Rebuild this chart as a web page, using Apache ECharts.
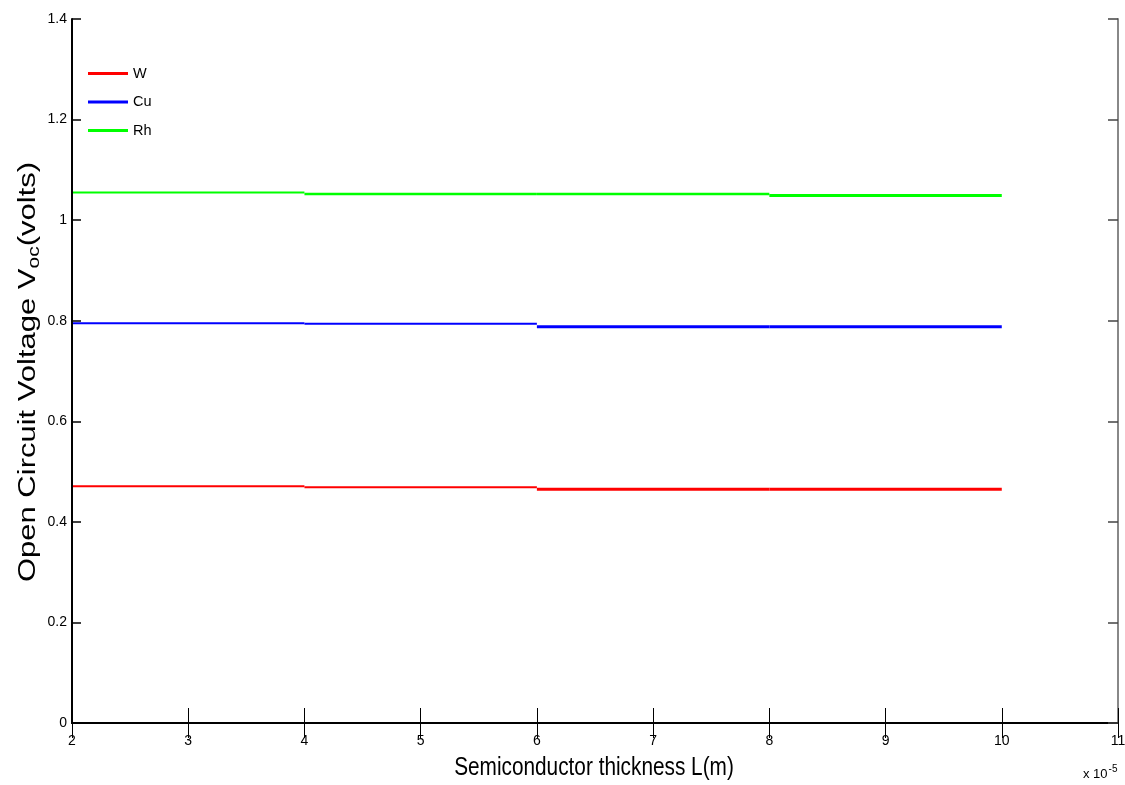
<!DOCTYPE html>
<html>
<head>
<meta charset="utf-8">
<title>Open Circuit Voltage vs Semiconductor thickness</title>
<script src="https://cdn.jsdelivr.net/npm/echarts@6/dist/echarts.min.js"></script>
<style>
  html, body { margin: 0; padding: 0; background: #fff; overflow: hidden; }
  #chart { width: 1125px; height: 785px; }
</style>
</head>
<body>
<div id="chart"></div>
<script>
// Thickness breakpoints (units of 1e-5 m); each material holds a constant
// voltage between consecutive breakpoints.
const thicknessBreaks = [2, 4, 6, 8, 10];
const materials = ['W', 'Cu', 'Rh'];
const vocW  = [0.471, 0.469, 0.465, 0.465];
const vocCu = [0.795, 0.794, 0.788, 0.788];
const vocRh = [1.055, 1.052, 1.052, 1.049];
const xTicks = [2, 3, 4, 5, 6, 7, 8, 9, 10, 11];
const yTicks = [0, 0.2, 0.4, 0.6, 0.8, 1.0, 1.2, 1.4];
const xTitle = 'Semiconductor thickness L(m)';
const yTitleMain = 'Open Circuit Voltage V';
const yTitleSub = 'oc';
const yTitleTail = '(volts)';

const FONT = "'Liberation Sans', Arial, sans-serif";
const colors = { W: '#ff0000', Cu: '#0000ff', Rh: '#00ff00' };
const segWidths = {
  W:  [2, 2, 3, 3],
  Cu: [2, 2, 3.2, 3.2],
  Rh: [2, 2.4, 2.4, 3]
};
const values = { W: vocW, Cu: vocCu, Rh: vocRh };

const series = [];
materials.forEach(function (m) {
  values[m].forEach(function (v, i) {
    series.push({
      name: m,
      type: 'line',
      data: [[thicknessBreaks[i], v], [thicknessBreaks[i + 1], v]],
      showSymbol: false,
      symbol: 'none',
      lineStyle: { color: colors[m], width: segWidths[m][i] },
      itemStyle: { color: colors[m] },
      z: 2,
      silent: true,
      animation: false
    });
  });
});

const chart = echarts.init(document.getElementById('chart'), null, { renderer: 'canvas' });
chart.setOption({
  backgroundColor: '#fff',
  animation: false,
  grid: { left: 72, right: 7, top: 19, bottom: 62, containLabel: false, outerBoundsMode: 'none' },
  legend: {
    data: materials.map(function (m) { return { name: m, icon: 'rect', itemStyle: { color: colors[m] } }; }),
    orient: 'vertical',
    left: 88,
    top: 66,
    padding: 0,
    itemWidth: 40,
    itemHeight: 3,
    itemGap: 13.5,
    textStyle: { fontFamily: FONT, fontSize: 14.5, color: '#000' },
    selectedMode: false
  },
  xAxis: [{
    type: 'value',
    min: 2, max: 11, interval: 1,
    position: 'bottom',
    axisLine: { show: true, lineStyle: { color: '#000', width: 2 } },
    axisTick: { show: true, inside: true, length: 15, lineStyle: { color: '#000', width: 1 } },
    axisLabel: {
      fontFamily: FONT, fontSize: 14, color: '#000', margin: 11,
      formatter: function (v) { return xTicks.indexOf(v) >= 0 ? String(v) : ''; }
    },
    splitLine: { show: false }
  }, {
    type: 'value',
    min: 2, max: 11, interval: 1,
    position: 'top',
    axisLine: { show: true, lineStyle: { color: '#000', width: 2 } },
    axisTick: { show: true, inside: true, length: 15, lineStyle: { color: '#000', width: 1 } },
    axisLabel: { show: false },
    splitLine: { show: false }
  }],
  yAxis: [{
    type: 'value',
    min: 0, max: 1.4, interval: 0.2,
    position: 'left',
    z: 3,
    axisLine: { show: true, lineStyle: { color: '#000', width: 2 } },
    axisTick: { show: true, inside: true, length: 9, lineStyle: { color: '#000', width: 1.5 } },
    axisLabel: {
      fontFamily: FONT, fontSize: 14, color: '#000', margin: 5,
      formatter: function (v) {
        const t = yTicks.find(function (y) { return Math.abs(y - v) < 1e-9; });
        return t === undefined ? '' : String(Math.round(t * 10) / 10);
      }
    },
    splitLine: { show: false }
  }, {
    type: 'value',
    min: 0, max: 1.4, interval: 0.2,
    position: 'right',
    axisLine: { show: true, lineStyle: { color: '#888', width: 2 } },
    axisTick: { show: true, inside: true, length: 10, lineStyle: { color: '#444', width: 1.5 } },
    axisLabel: { show: false },
    splitLine: { show: false }
  }],
  graphic: [{
    // x-axis title, set in a condensed face
    type: 'text',
    x: 594,
    y: 768,
    scaleX: 0.8,
    style: {
      text: xTitle,
      fontFamily: FONT, fontSize: 26, fill: '#000',
      align: 'center', verticalAlign: 'middle'
    }
  }, {
    // y-axis title with the "oc" subscript, reading bottom to top
    type: 'text',
    x: 28,
    y: 372,
    rotation: Math.PI / 2,
    scaleY: 0.8,
    style: {
      text: '{m|' + yTitleMain + '}{s|' + yTitleSub + '}{m|' + yTitleTail + '}',
      align: 'center', verticalAlign: 'middle',
      rich: {
        m: { fontFamily: FONT, fontSize: 31, fill: '#000' },
        s: { fontFamily: FONT, fontSize: 21, fill: '#000', verticalAlign: 'bottom', padding: [16, 0, 0, 0] }
      }
    }
  }, {
    type: 'text',
    x: 1083,
    y: 764,
    style: {
      text: '{a|x 10}{b|-5}',
      rich: {
        a: { fontFamily: FONT, fontSize: 13, fill: '#000' },
        b: { fontFamily: FONT, fontSize: 10, fill: '#000', verticalAlign: 'top', padding: [0, 0, 10, 1] }
      }
    }
  }],
  series: series
});
</script>
</body>
</html>
